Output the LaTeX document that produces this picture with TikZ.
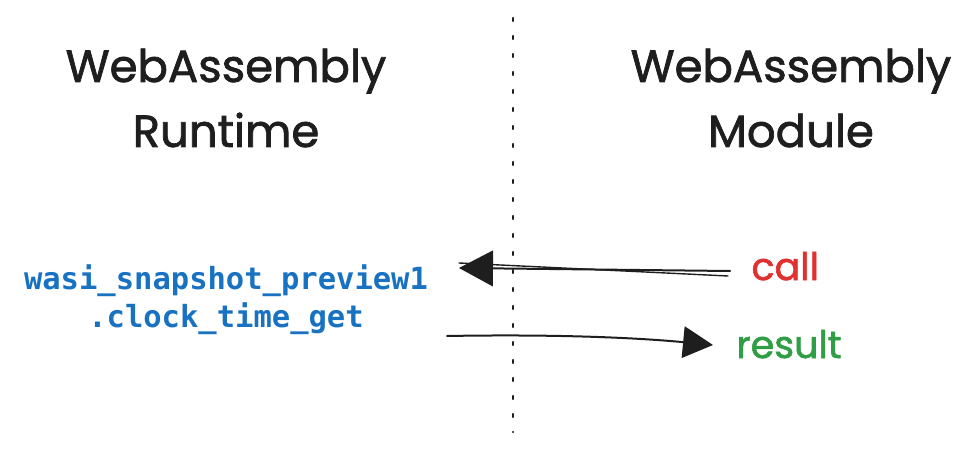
\documentclass[tikz,border=0pt]{standalone}
\usepackage{fontspec}
\setmainfont{Poppins}[AutoFakeBold=1.6]
\newfontfamily\codefont{DejaVu Sans Mono}
\usetikzlibrary{arrows.meta}
\definecolor{ink}{HTML}{1E1E1E}
\definecolor{codeblue}{HTML}{1971C2}
\definecolor{callred}{HTML}{E03131}
\definecolor{resgreen}{HTML}{2F9E44}
\tikzset{
  title/.style={align=center,text=ink,font=\bfseries\fontsize{45}{65}\selectfont},
  code/.style={align=center,text=codeblue,font=\codefont\bfseries\fontsize{30.5}{38}\selectfont},
  msg/.style={font=\bfseries\fontsize{38}{40}\selectfont,anchor=base west},
  sketch/.style={draw=ink,line width=2pt,line cap=round},
  tip/.style={-{Triangle[length=#1,width=1.05*#1]}}
}
\begin{document}
\begin{tikzpicture}[x=1pt,y=-1pt]
\useasboundingbox (0,0) rectangle (980,457);
\draw[ink,line width=2.4pt,line cap=round,dash pattern=on 3pt off 15pt] (513,18) -- (513,432);
\node[title] (runtime) at (226,98) {WebAssembly\\Runtime};
\node[title] (module) at (791,98) {WebAssembly\\Module};
\node[code] (fn) at (226,300) {wasi\_snapshot\_preview1\\.clock\_time\_get};
\node[msg,text=callred] (call) at (748,280) {call};
\node[msg,text=resgreen] (result) at (733,358) {result};
\coordinate (callstart) at (730,271);
\coordinate (callend) at (459,268);
\coordinate (resstart) at (447,336);
\coordinate (resend) at (713,345);
% call goes from the module to the runtime
\draw[sketch,tip=34pt] (callstart) -- (callend);
\draw[sketch,line width=1.4pt] (callstart) ++(-2,5) -- ([yshift=5pt]callend);
% the result comes back
\draw[sketch,tip=30pt] (resstart) .. controls (560,334) and (640,338) .. (resend);
\end{tikzpicture}
\end{document}
